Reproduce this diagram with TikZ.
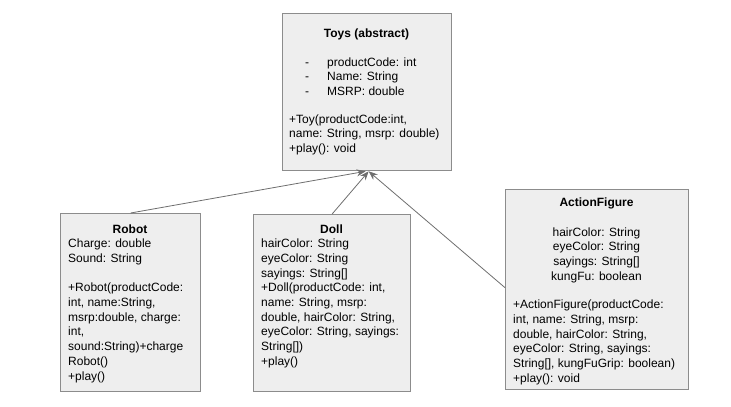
\documentclass[tikz,border=0pt]{standalone}
\usepackage{fontspec}
\setmainfont{Liberation Sans}
\usetikzlibrary{arrows.meta,positioning}

\definecolor{boxfill}{HTML}{EEEEEE}
\definecolor{boxline}{HTML}{8C8C8C}
\definecolor{linkline}{HTML}{6E6E6E}

\tikzset{
  classbox/.style={draw=boxline, fill=boxfill, line width=1.3pt, anchor=north west, inner sep=0pt},
  classname/.style={font=\fontsize{12}{14.7}\selectfont\bfseries, inner sep=0pt, anchor=base},
  classtext/.style={inner sep=0pt, anchor=north west, yshift=10.29pt, align=left},
  inherits/.style={draw=linkline, line width=0.8pt, -{Stealth[length=9pt,width=7pt]}}
}

\begin{document}
\begin{tikzpicture}[x=1pt, y=-1pt, font=\fontsize{12}{14.7}\selectfont]
    \useasboundingbox (0,0) rectangle (731,407);
    % boxes
    \node (toys) [classbox, minimum width=169pt, minimum height=157pt] at (282, 13) {};
    \node (robot) [classbox, minimum width=140pt, minimum height=178pt] at (60, 213) {};
    \node (doll) [classbox, minimum width=157pt, minimum height=177pt] at (253, 214) {};
    \node (action) [classbox, minimum width=183pt, minimum height=200pt] at (505, 189) {};
    % texts
    \node (toysname) [classname] at (366.5, 37) {Toys (abstract)};
    \node (toysfields) [classtext] at (305, 66) {\strut\makebox[22pt][l]{-}productCode: int\\
    \makebox[22pt][l]{-}Name: String\\
    \makebox[22pt][l]{-}MSRP: double};
    \node (toysops) [classtext] at (289, 123) {\strut+Toy(productCode:int,\\
    name: String, msrp: double)\\
    +play(): void};
    \node (robotname) [classname] at (130, 233) {Robot};
    \node (robottext) [classtext] at (68, 247.5) {\strut Charge: double\\
    Sound: String\\[14.7pt]
    +Robot(productCode:\\
    int, name:String,\\
    msrp:double, charge:\\
    int,\\
    sound:String)+charge\\
    Robot()\\
    +play()};
    \node (dollname) [classname] at (331.5, 233) {Doll};
    \node (dolltext) [classtext] at (261, 247.5) {\strut hairColor: String\\
    eyeColor: String\\
    sayings: String[]\\
    +Doll(productCode: int,\\
    name: String, msrp:\\
    double, hairColor: String,\\
    eyeColor: String, sayings:\\
    String[])\\
    +play()};
    \node (actionname) [classname] at (596.5, 206.5) {ActionFigure};
    \node (actionfields) [classtext, anchor=north, align=center] at (596.5, 236) {\strut hairColor: String\\
    eyeColor: String\\
    sayings: String[]\\
    kungFu: boolean};
    \node (actionops) [classtext] at (513, 308.5) {\strut+ActionFigure(productCode:\\
    int, name: String, msrp:\\
    double, hairColor: String,\\
    eyeColor: String, sayings:\\
    String[], kungFuGrip: boolean)\\
    +play(): void};
    % generalisation links
    \draw[inherits] (robot.north) -- ([xshift=-1.5pt]toys.south);
    \draw[inherits] (doll.north) -- ([xshift=1.5pt]toys.south);
    \draw[inherits] ([yshift=2pt]action.west) -- ([xshift=1.5pt]toys.south);
\end{tikzpicture}
\end{document}
